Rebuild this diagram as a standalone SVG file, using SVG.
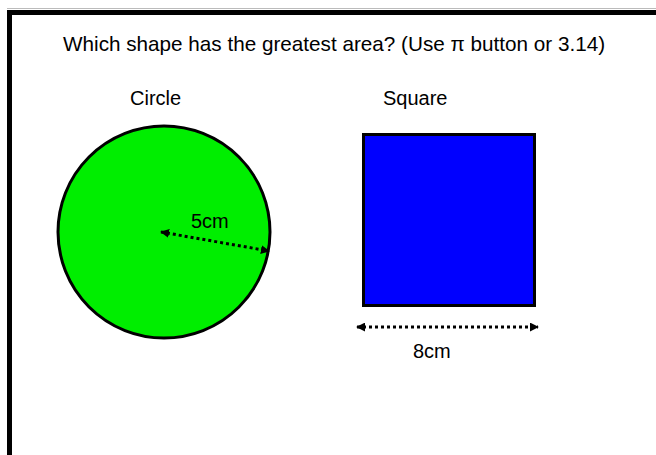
<svg xmlns="http://www.w3.org/2000/svg" width="656" height="455" viewBox="0 0 656 455">
<style>
text{font-family:"Liberation Sans",Arial,sans-serif;fill:#000}
.t{font-size:20.7px}
.l{font-size:20px}
.dim{stroke:#000;stroke-width:3;stroke-dasharray:3 3;fill:none}
</style>
<defs>
<marker id="ah" viewBox="0 0 10 10" refX="9" refY="5" markerWidth="3" markerHeight="3" orient="auto-start-reverse" markerUnits="strokeWidth">
<path d="M0,0 L10,5 L0,10 z" fill="#000"/>
</marker>
</defs>
<rect width="656" height="455" fill="#fff"/>
<g id="frame">
<line x1="7" y1="8.5" x2="656" y2="8.5" stroke="#bbb" stroke-width="1"/>
<path d="M9.5,455 V12.5 H656" fill="none" stroke="#000" stroke-width="5"/>
</g>
<g id="title"><text class="t" x="63" y="51">Which shape has the greatest area? (Use π button or 3.14)</text></g>
<g id="circle">
<text class="l" x="130" y="105">Circle</text>
<circle cx="164" cy="232" r="106" fill="#00ee00" stroke="#000" stroke-width="3"/>
<text class="l" x="191" y="228">5cm</text>
</g>
<g id="square">
<text class="l" x="383" y="105">Square</text>
<rect x="363.5" y="134.5" width="171" height="171" fill="#0000ff" stroke="#000" stroke-width="3"/>
<text class="l" x="413" y="358">8cm</text>
</g>
<g id="connectors">
<line class="dim" x1="161" y1="232" x2="269" y2="251" marker-start="url(#ah)" marker-end="url(#ah)"/>
<line class="dim" x1="357" y1="327" x2="538" y2="327" marker-start="url(#ah)" marker-end="url(#ah)"/>
</g>
</svg>
